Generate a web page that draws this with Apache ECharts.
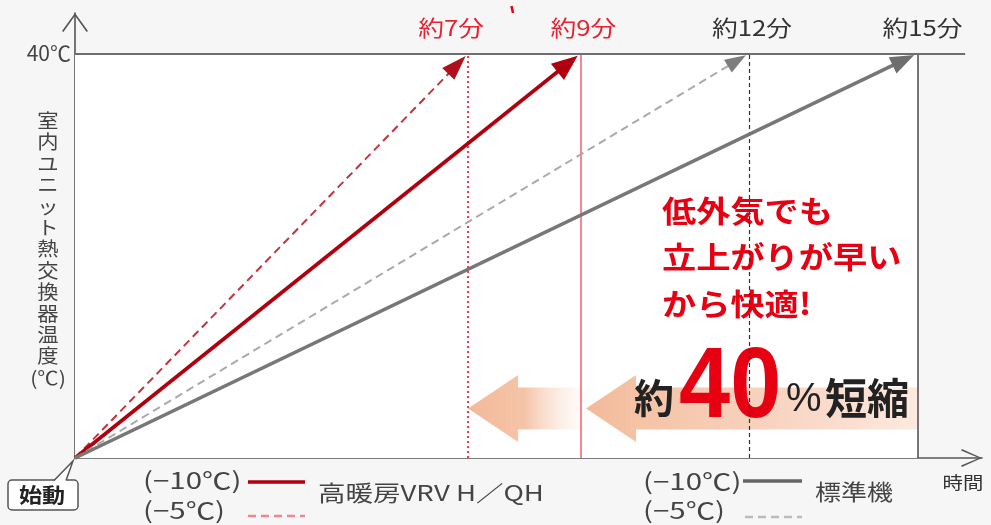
<!DOCTYPE html>
<html>
<head>
<meta charset="utf-8">
<script src="https://cdn.jsdelivr.net/npm/echarts@6/dist/echarts.min.js"></script>
<style>
  html, body { margin: 0; padding: 0; background: #f6f6f6; }
  #chart { width: 991px; height: 525px; }
</style>
</head>
<body>
<div id="chart"></div>
<script>
// ---- data ----
// minutes needed to reach the target heat-exchanger temperature
// order: VRV (−5℃), VRV (−10℃), 標準機 (−5℃), 標準機 (−10℃)
const reachMinutes = [7, 9, 12, 15];
const reachLabels = ['約7分', '約9分', '約12分', '約15分'];
const startTemp = 0;
const targetTemp = 40;
const tempTicks = [40];
const outdoorTemps = ['(−10℃)', '(−5℃)'];
const modelNames = ['高暖房VRV H／QH', '標準機'];
const yAxisTitle = ['室', '内', 'ユ', 'ニ', 'ッ', 'ト', '熱', '交', '換', '器', '温', '度', '(℃)'];
// reduction arrows: [tip minute, tail minute, temperature]
const reductionArrows = [[7, 9.4, 4.9], [9.1, 15, 4.9]];
const reductionText = ['約', '40', '%', '短縮'];
const messageLines = ['低外気でも', '立上がりが早い', 'から快適!'];
const startLabel = '始動';
const timeLabel = '時間';

// ---- drawing ----
const FONT = '"Noto Sans CJK JP", "Noto Sans", sans-serif';
const chart = echarts.init(document.getElementById('chart'), null, { renderer: 'canvas' });

const curveStyles = [
  { color: '#c23440', width: 2, dash: [8, 5], head: [17, 25], headColor: '#b0101c' },
  { color: '#b0000e', width: 3.6, dash: null, head: [21, 26] },
  { color: '#aaaaaa', width: 2, dash: [8, 5], head: [15, 21], headColor: '#7d7d7d' },
  { color: '#777777', width: 3.6, dash: null, head: [18, 24], headColor: '#6e6e6e' }
];
const guideStyles = [
  { color: '#ee3b55', width: 2, type: [2, 3] },
  { color: '#f06a7a', width: 1.6, type: 'solid' },
  { color: '#333333', width: 1.2, type: [4, 3] },
  { color: '#555555', width: 1.6, type: 'solid' }
];

const chevronUpY = 'path://M0,17.8 L13,0 L26,17.8 L24.6,18.8 L13,2.6 L1.4,18.8 Z';
const chevronUpX = 'path://M0,20 L9,0 L18,20 L16.6,20.8 L9,3 L1.4,20.8 Z';

const series = [];

// white plotting field
series.push({
  type: 'line', data: [], z: 1, silent: true,
  markArea: {
    silent: true,
    itemStyle: { color: '#ffffff' },
    data: [[{ coord: [0, startTemp] }, { coord: [reachMinutes[3], targetTemp] }]]
  }
});

// reduction arrows
series.push({
  type: 'custom', z: 3, silent: true,
  data: reductionArrows,
  encode: { x: [0, 1], y: 2 },
  renderItem: function (params, api) {
    const tip = api.coord([api.value(0), api.value(2)]);
    const tail = api.coord([api.value(1), api.value(2)]);
    const cy = tip[1];
    const headLen = 50, headHalf = 33.5, shaftHalf = 21;
    const first = params.dataIndex === 0;
    return {
      type: 'polygon',
      shape: {
        points: [
          [tip[0], cy],
          [tip[0] + headLen, cy - headHalf],
          [tip[0] + headLen, cy - shaftHalf],
          [tail[0], cy - shaftHalf],
          [tail[0], cy + shaftHalf],
          [tip[0] + headLen, cy + shaftHalf],
          [tip[0] + headLen, cy + headHalf]
        ]
      },
      style: {
        fill: new echarts.graphic.LinearGradient(0, 0, 1, 0, first ? [
          { offset: 0, color: '#f3b999' },
          { offset: 0.42, color: '#f5c4a8' },
          { offset: 1, color: 'rgba(255,255,255,0)' }
        ] : [
          { offset: 0, color: '#f3b999' },
          { offset: 0.16, color: '#f5c3a6' },
          { offset: 0.55, color: '#f8d3bf' },
          { offset: 1, color: '#fde9df' }
        ])
      }
    };
  }
});

// guide lines at each reach time
reachMinutes.forEach(function (m, i) {
  const s = guideStyles[i];
  series.push({
    type: 'line', data: [], z: 10, silent: true,
    markLine: {
      silent: true, animation: false, symbol: ['none', 'none'],
      label: { show: false },
      lineStyle: { color: s.color, width: s.width, type: s.type },
      data: [[{ coord: [m, startTemp] }, { coord: [m, targetTemp] }]]
    }
  });
});

// 40℃ line
series.push({
  type: 'line', data: [], z: 9, silent: true,
  markLine: {
    silent: true, animation: false, symbol: ['none', 'none'],
    label: { show: false },
    lineStyle: { color: '#6e6e6e', width: 2.2, type: 'solid' },
    data: [[{ coord: [0, targetTemp] }, { coord: [15.85, targetTemp] }]]
  }
});

// temperature rise curves with arrow heads
series.push({
  type: 'custom', z: 12, silent: true,
  data: reachMinutes.map(function (m) { return [0, startTemp, m, targetTemp]; }),
  encode: { x: [0, 2], y: [1, 3] },
  renderItem: function (params, api) {
    const s = curveStyles[params.dataIndex];
    const p0 = api.coord([api.value(0), api.value(1)]);
    const p1 = api.coord([api.value(2), api.value(3)]);
    const dx = p1[0] - p0[0], dy = p1[1] - p0[1];
    const len = Math.sqrt(dx * dx + dy * dy);
    const ux = dx / len, uy = dy / len;
    const pull = 3.5;
    const tip = [p1[0] - ux * pull, p1[1] - uy * pull];
    const base = [tip[0] - ux * s.head[1], tip[1] - uy * s.head[1]];
    const px = -uy, py = ux, hw = s.head[0] / 2;
    return {
      type: 'group',
      children: [
        {
          type: 'line',
          shape: { x1: p0[0], y1: p0[1], x2: base[0] + ux * 3, y2: base[1] + uy * 3 },
          style: { stroke: s.color, lineWidth: s.width, lineDash: s.dash }
        },
        {
          type: 'polygon',
          shape: { points: [tip, [base[0] + px * hw, base[1] + py * hw], [base[0] - px * hw, base[1] - py * hw]] },
          style: { fill: s.headColor || s.color }
        }
      ]
    };
  }
});

// reach-time labels above the 40℃ line
const labelShift = [-17, 3, 3, 5];
series.push({
  type: 'custom', z: 14, silent: true,
  data: reachMinutes.map(function (m) { return [m, targetTemp]; }),
  encode: { x: 0, y: 1 },
  renderItem: function (params, api) {
    const i = params.dataIndex;
    const p = api.coord([api.value(0), api.value(1)]);
    return {
      type: 'text',
      x: p[0] + labelShift[i], y: p[1] - 25.5,
      scaleX: 1.17,
      style: {
        text: reachLabels[i],
        font: '22px ' + FONT,
        fill: i < 2 ? '#e8202f' : '#333333',
        align: 'center', verticalAlign: 'middle'
      }
    };
  }
});

// ---- annotation graphics ----
const g = [];
function addText(x, y, text, font, fill, extra) {
  g.push(Object.assign({
    type: 'text', x: x, y: y, z: 5, silent: true,
    style: Object.assign({ text: text, font: font, fill: fill, align: 'left', verticalAlign: 'middle' }, extra && extra.style)
  }, extra && extra.el));
}

// axis title (vertical)
addText(48, 110, yAxisTitle.join('\n'), '19px ' + FONT, '#444',
  { el: { scaleX: 1.12 }, style: { align: 'center', verticalAlign: 'top', lineHeight: 21.4 } });

// message
addText(662, 187, messageLines.join('\n'), 'bold 30px ' + FONT, '#e60012',
  { el: { scaleX: 1.14 }, style: { verticalAlign: 'top', lineHeight: 46.5 } });

// reduction text
addText(634, 398, reductionText[0], 'bold 40px ' + FONT, '#222');
addText(679, 389, reductionText[1], 'bold 100px "Liberation Sans", Arial, sans-serif', '#e60012', { el: { scaleX: 0.92 } });
addText(786, 400, reductionText[2], '40px "Liberation Sans", Arial, sans-serif', '#222');
addText(825, 398, reductionText[3], 'bold 42px ' + FONT, '#222');

// legend
const tempFont = '23px ' + FONT;
const nameFont = '22px ' + FONT;
addText(143, 480, outdoorTemps[0], tempFont, '#444', { el: { scaleX: 1.28 } });
addText(143, 510, outdoorTemps[1], tempFont, '#444', { el: { scaleX: 1.28 } });
addText(318, 493, modelNames[0], nameFont, '#444', { el: { scaleX: 1.25 } });
addText(643, 481, outdoorTemps[0], tempFont, '#444', { el: { scaleX: 1.28 } });
addText(643, 510, outdoorTemps[1], tempFont, '#444', { el: { scaleX: 1.28 } });
addText(815, 492, modelNames[1], nameFont, '#444', { el: { scaleX: 1.18 } });
g.push({ type: 'line', silent: true, shape: { x1: 248, y1: 482, x2: 305, y2: 482 }, style: { stroke: '#b0000e', lineWidth: 3.5 } });
g.push({ type: 'line', silent: true, shape: { x1: 248, y1: 516, x2: 305, y2: 516 }, style: { stroke: '#ea8a90', lineWidth: 2.5, lineDash: [8, 5] } });
g.push({ type: 'line', silent: true, shape: { x1: 743, y1: 481, x2: 802, y2: 481 }, style: { stroke: '#666', lineWidth: 3.5 } });
g.push({ type: 'line', silent: true, shape: { x1: 745, y1: 517, x2: 802, y2: 517 }, style: { stroke: '#bbb', lineWidth: 2.5, lineDash: [8, 5] } });

// axis name for time
addText(963, 483, timeLabel, '17px ' + FONT, '#333', { el: { scaleX: 1.2 }, style: { align: 'center' } });

// start callout
g.push({ type: 'rect', silent: true, z: 6, shape: { x: 8, y: 480, width: 70, height: 30, r: 4 }, style: { fill: '#fff', stroke: '#555', lineWidth: 1.5 } });
g.push({ type: 'polygon', silent: true, z: 7, shape: { points: [[54, 481.5], [73, 461], [66, 481.5]] }, style: { fill: '#fff' } });
g.push({ type: 'polyline', silent: true, z: 7, shape: { points: [[54, 480.5], [73, 461], [66, 480.5]] }, style: { stroke: '#555', lineWidth: 1.5, fill: null } });
addText(42, 495, startLabel, 'bold 20px ' + FONT, '#222', { el: { scaleX: 1.15, z: 8 }, style: { align: 'center' } });

// small red stroke at the top edge
g.push({ type: 'line', silent: true, shape: { x1: 511.5, y1: 6, x2: 513, y2: 13 }, style: { stroke: '#e60012', lineWidth: 2.5 } });

chart.setOption({
  backgroundColor: '#f6f6f6',
  animation: false,
  grid: { left: 75, right: 9, top: 13, bottom: 67, containLabel: false },
  xAxis: {
    type: 'value', min: 0, max: 16.15,
    axisLine: {
      show: true, symbol: ['none', chevronUpX], symbolSize: [18, 21], symbolOffset: [0, -10.5],
      lineStyle: { color: '#555', width: 1.6 }
    },
    axisTick: { show: false }, axisLabel: { show: false }, splitLine: { show: false }
  },
  yAxis: {
    type: 'value', min: 0, max: 44,
    axisLine: {
      show: true, symbol: ['none', chevronUpY], symbolSize: [26, 19], symbolOffset: [0, -9.5],
      lineStyle: { color: '#555', width: 1.6 }
    },
    axisTick: { show: false },
    axisLabel: {
      show: true, customValues: tempTicks, margin: 4,
      formatter: function (v) { return v + '℃'; },
      fontSize: 21, color: '#444', fontFamily: FONT
    },
    splitLine: { show: false }
  },
  graphic: { elements: g },
  series: series
});
</script>
</body>
</html>
